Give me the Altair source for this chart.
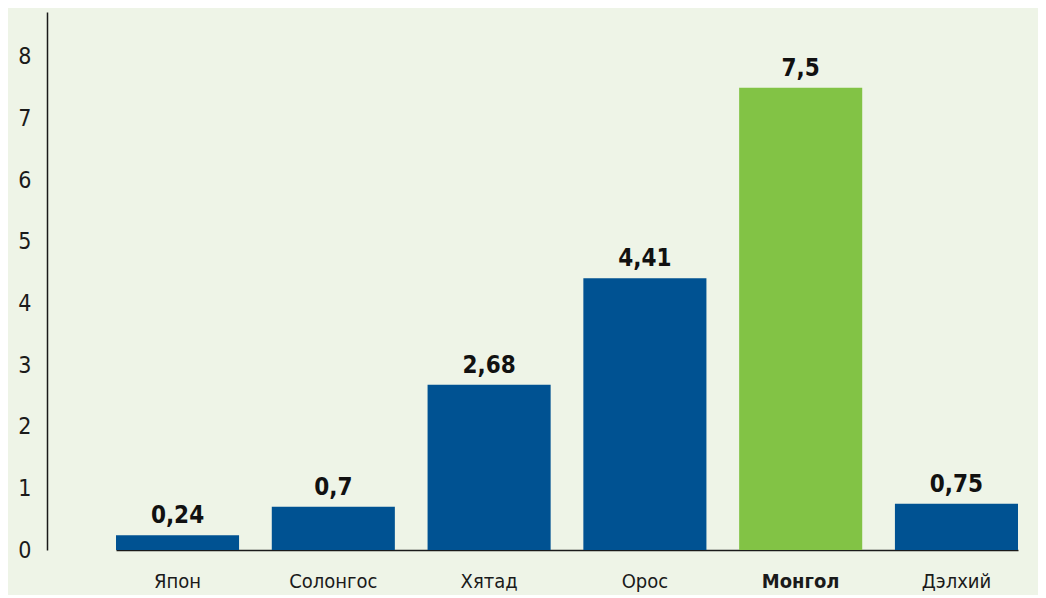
import altair as alt
import pandas as pd

countries = ["Япон", "Солонгос", "Хятад", "Орос", "Монгол", "Дэлхий"]
values = [0.24, 0.7, 2.68, 4.41, 7.5, 0.75]
labels = ["0,24", "0,7", "2,68", "4,41", "7,5", "0,75"]
highlight = [False, False, False, False, True, False]

df = pd.DataFrame({"country": countries, "value": values, "label": labels, "hl": highlight})

FONT = "Liberation Sans Narrow, DejaVu Sans Condensed, Roboto, sans-serif"
BLUE = "#005292"
GREEN = "#82c345"
BG = "#eef4e7"

x = alt.X(
    "country:N",
    sort=countries,
    title=None,
    scale=alt.Scale(range=[69, 971], paddingInner=0.21, paddingOuter=0),
    axis=alt.Axis(
        labelAngle=0,
        ticks=False,
        domainColor="#1a1a1a",
        domainWidth=1.5,
        labelFont=FONT,
        labelFontSize=20,
        labelColor="#1a1a1a",
        labelPadding=21,
        labelFontWeight={"condition": {"test": "datum.value == 'Монгол'", "value": "bold"}, "value": "normal"},
    ),
)
y = alt.Y(
    "value:Q",
    title=None,
    scale=alt.Scale(domain=[0, 8.73], nice=False),
    axis=alt.Axis(
        values=[0, 1, 2, 3, 4, 5, 6, 7, 8],
        format="d",
        ticks=False,
        grid=False,
        domainColor="#1a1a1a",
        domainWidth=1.5,
        labelFont=FONT,
        labelFontSize=23,
        labelColor="#1a1a1a",
        labelPadding=16,
        labelFlush=False,
    ),
)

bars = alt.Chart(df).mark_bar().encode(
    x=x,
    y=y,
    color=alt.Color("hl:N", scale=alt.Scale(domain=[False, True], range=[BLUE, GREEN]), legend=None),
)
text = alt.Chart(df).mark_text(
    font=FONT, fontSize=24, fontWeight="bold", color="#111111", baseline="alphabetic", dy=-12
).encode(x=alt.X("country:N", sort=countries), y="value:Q", text="label:N")

chart = (
    alt.layer(bars, text)
    .properties(
        width=991,
        height=538,
        autosize=alt.AutoSizeParams(type="none"),
        padding={"left": 39, "top": 4, "right": 0, "bottom": 45},
        background=BG,
    )
    .configure_view(stroke=None)
)

chart.save("out.html", embed_options={"renderer": "svg", "actions": False})
